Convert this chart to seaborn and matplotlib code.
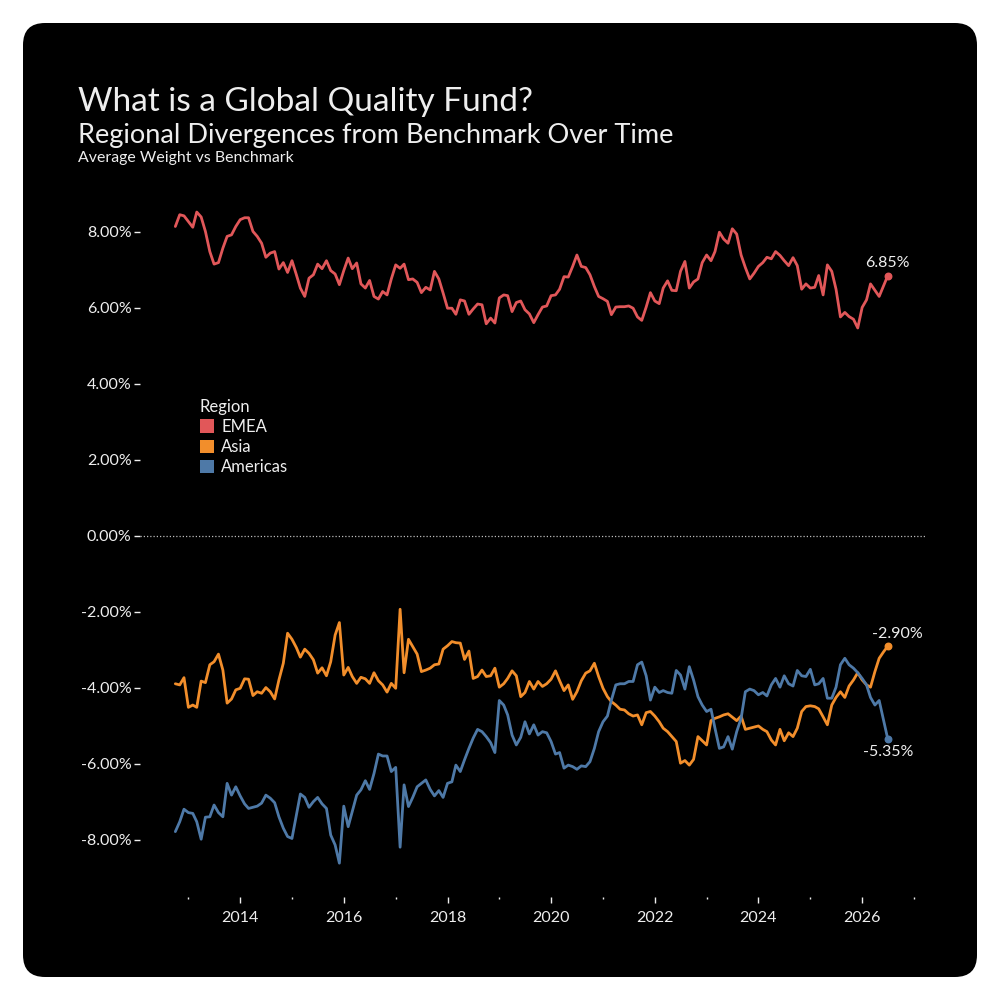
import numpy as np
import pandas as pd
import matplotlib
matplotlib.use("Agg")
import matplotlib.pyplot as plt
from matplotlib.patches import FancyBboxPatch, Patch
import seaborn as sns

# ---------------- data (monthly, % weight vs benchmark) ----------------
start_month = "2012-10-01"

emea = [
    8.14, 8.45, 8.42, 8.27, 8.12, 8.52, 8.39, 8.01, 7.48, 7.15,
    7.19, 7.57, 7.88, 7.92, 8.14, 8.32, 8.37, 8.37, 8.01, 7.88,
    7.70, 7.33, 7.44, 7.48, 7.02, 7.19, 6.93, 7.24, 6.87, 6.52,
    6.30, 6.78, 6.87, 7.15, 7.03, 7.24, 6.98, 6.89, 6.61, 6.98,
    7.31, 7.03, 7.18, 6.63, 6.52, 6.72, 6.30, 6.23, 6.43, 6.34,
    6.76, 7.13, 7.04, 7.15, 6.74, 6.76, 6.67, 6.40, 6.54, 6.47,
    6.96, 6.76, 6.39, 5.99, 5.99, 5.83, 6.21, 6.18, 5.83, 5.97,
    6.10, 6.08, 5.58, 5.73, 5.60, 6.26, 6.34, 6.32, 5.90, 6.14,
    6.18, 5.95, 5.84, 5.61,
    5.82, 6.02, 6.05, 6.32, 6.34, 6.49, 6.82, 6.81, 7.09, 7.39,
    7.09, 7.06, 6.87, 6.56, 6.30, 6.24, 6.17, 5.82, 6.02, 6.03,
    6.03, 6.05, 5.99, 5.76, 5.67, 6.02, 6.40, 6.18, 6.11, 6.52,
    6.71, 6.46, 6.45, 6.96, 7.22, 6.52, 6.68, 6.76, 7.19, 7.39,
    7.24, 7.48, 7.99, 7.81, 7.70, 8.08, 7.94, 7.39, 7.06, 6.76,
    6.91, 7.09, 7.19, 7.33, 7.29, 7.48, 7.38, 7.24, 7.11, 7.32,
    7.11, 6.49, 6.63, 6.52, 6.54, 6.85, 6.34, 7.13, 6.96, 6.49,
    5.76, 5.88, 5.77, 5.70, 5.47, 6.01, 6.21, 6.63, 6.46, 6.30,
    6.58, 6.85,
]

asia = [
    -3.89, -3.92, -3.73, -4.51, -4.45, -4.51, -3.82, -3.86, -3.39, -3.31,
    -3.11, -3.53, -4.40, -4.29, -4.05, -4.01, -3.76, -3.77, -4.20, -4.10,
    -4.14, -3.99, -4.10, -4.29, -3.79, -3.35, -2.56, -2.72, -2.94, -3.19,
    -2.98, -3.09, -3.26, -3.61, -3.47, -3.68, -3.31, -2.61, -2.28, -3.66,
    -3.46, -3.70, -3.88, -3.72, -3.76, -3.88, -3.60, -3.81, -3.92, -4.11,
    -3.88, -4.01, -1.93, -3.60, -2.72, -2.91, -3.11, -3.57, -3.53, -3.48,
    -3.39, -3.37, -2.98, -2.89, -2.78, -2.81, -2.82, -3.25, -3.03, -3.75,
    -3.70, -3.53, -3.70, -3.68, -3.48, -3.98, -3.89, -3.75, -3.55, -3.68,
    -4.23, -4.12, -3.83, -4.03,
    -3.83, -3.96, -3.89, -3.77, -3.55, -3.81, -4.07, -3.92, -4.30, -4.10,
    -3.81, -3.61, -3.55, -3.35, -3.70, -4.01, -4.23, -4.36, -4.45, -4.56,
    -4.58, -4.68, -4.74, -4.71, -4.97, -4.65, -4.62, -4.74, -4.89, -5.06,
    -5.15, -5.28, -5.41, -5.98, -5.91, -6.03, -5.88, -5.28, -5.39, -5.50,
    -4.86, -4.80, -4.76, -4.71, -4.68, -4.77, -4.86, -4.74, -5.09, -5.06,
    -5.03, -5.00, -5.09, -5.15, -5.37, -5.50, -5.09, -5.39, -5.18, -5.28,
    -5.06, -4.62, -4.49, -4.47, -4.49, -4.55, -4.76, -4.97, -4.45, -4.25,
    -4.10, -4.25, -3.95, -3.79, -3.60, -3.79, -3.92, -3.98, -3.57, -3.22,
    -3.05, -2.90,
]

americas = [
    -7.78, -7.52, -7.19, -7.28, -7.30, -7.52, -7.98, -7.40, -7.39, -7.08,
    -7.28, -7.39, -6.51, -6.82, -6.60, -6.84, -7.05, -7.17, -7.14, -7.11,
    -7.03, -6.82, -6.90, -7.02, -7.39, -7.69, -7.91, -7.96, -7.34, -6.79,
    -6.88, -7.14, -6.99, -6.88, -7.05, -7.17, -7.87, -8.13, -8.61, -7.11,
    -7.65, -7.25, -6.82, -6.68, -6.44, -6.67, -6.25, -5.74, -5.79, -5.79,
    -6.20, -6.09, -8.19, -6.55, -7.12, -6.88, -6.60, -6.51, -6.42, -6.67,
    -6.84, -6.70, -6.88, -6.51, -6.47, -6.03, -6.20, -5.89, -5.59, -5.32,
    -5.09, -5.15, -5.28, -5.44, -5.70, -4.33, -4.45, -4.71, -5.24, -5.50,
    -5.30, -4.89, -5.21, -4.97,
    -5.24, -5.15, -5.18, -5.41, -5.74, -5.70, -6.11, -6.03, -6.07, -6.14,
    -6.05, -6.07, -5.94, -5.59, -5.15, -4.89, -4.74, -4.32, -3.92, -3.89,
    -3.89, -3.83, -3.83, -3.39, -3.32, -3.68, -4.32, -3.98, -4.12, -4.07,
    -4.12, -4.14, -3.54, -3.66, -4.03, -3.44, -3.79, -4.23, -4.45, -4.62,
    -4.56, -5.06, -5.59, -5.55, -5.28, -5.61, -5.15, -4.80, -4.10, -4.03,
    -4.07, -4.18, -4.12, -4.21, -3.92, -3.75, -3.98, -3.68, -3.89, -3.95,
    -3.54, -3.68, -3.70, -3.51, -3.92, -3.89, -3.75, -4.27, -4.27, -3.98,
    -3.39, -3.22, -3.39, -3.48, -3.60, -3.75, -3.92, -4.25, -4.45, -4.33,
    -4.85, -5.35,
]

regions = ["EMEA", "Asia", "Americas"]
region_colors = {"EMEA": "#E15759", "Asia": "#F28E2B", "Americas": "#4E79A7"}
y_ticks = [-8, -6, -4, -2, 0, 2, 4, 6, 8]
major_years = [2014, 2016, 2018, 2020, 2022, 2024, 2026]
minor_years = [2013, 2015, 2017, 2019, 2021, 2023, 2025, 2027]

title = "What is a Global Quality Fund?"
subtitle = "Regional Divergences from Benchmark Over Time"
caption = "Average Weight vs Benchmark"

# ---------------- build table ----------------
n = min(len(emea), len(asia), len(americas))
dates = pd.date_range(start_month, periods=n, freq="MS")
series = {"EMEA": emea[:n], "Asia": asia[:n], "Americas": americas[:n]}
df = pd.concat(
    [pd.DataFrame({"Date": dates, "Value": vals, "Region": r}) for r, vals in series.items()],
    ignore_index=True,
)

# ---------------- style ----------------
sns.set_theme(style="dark", rc={"axes.facecolor": "none", "figure.facecolor": "white"})
plt.rcParams["font.family"] = ["Lato", "DejaVu Sans"]
txt = "#EEEEEE"

fig = plt.figure(figsize=(10, 10), dpi=100, facecolor="white")
bg = FancyBboxPatch((0.023, 0.023), 0.954, 0.954,
                    boxstyle="round,pad=0,rounding_size=0.022",
                    transform=fig.transFigure, facecolor="black", edgecolor="none", zorder=-10)
fig.patches.append(bg)

ax = fig.add_axes([0.14, 0.103, 0.785, 0.707])
ax.set_facecolor("none")
ax.set_zorder(5)

sns.lineplot(data=df, x="Date", y="Value", hue="Region", hue_order=regions,
             palette=region_colors, linewidth=2.0, ax=ax, legend=False)

ax.axhline(0, color="#BBBBBB", lw=0.9, ls=(0, (1, 1.6)), zorder=1)

# endpoints and labels
last = df[df["Date"] == dates[-1]]
for _, row in last.iterrows():
    ax.scatter([row["Date"]], [row["Value"]], s=22, color=region_colors[row["Region"]], zorder=5)
offsets = {"EMEA": (0, 4, "bottom"), "Asia": (7, 4, "bottom"), "Americas": (0, -4, "top")}
for _, row in last.iterrows():
    dx, dy, va = offsets[row["Region"]]
    ax.annotate(f"{row['Value']:.2f}%", (row["Date"], row["Value"]),
                xytext=(dx, dy), textcoords="offset points", ha="center", va=va,
                color=txt, fontsize=11.5)

ax.set_ylim(-9.5, 9.1)
ax.set_xlim(pd.Timestamp("2012-01-26"), pd.Timestamp("2027-03-20"))
ax.set_yticks(y_ticks)
ax.set_yticklabels([f"{v:.2f}%" for v in y_ticks])
ax.set_xticks([pd.Timestamp(f"{y}-01-01") for y in major_years])
ax.set_xticklabels([str(y) for y in major_years])
ax.set_xticks([pd.Timestamp(f"{y}-01-01") for y in minor_years], minor=True)
ax.tick_params(axis="both", which="major", colors=txt, labelcolor=txt, labelsize=11.5,
               length=4, width=1, direction="out", pad=2, left=True, bottom=True)
ax.tick_params(axis="x", which="minor", colors=txt, length=1.5, width=1, bottom=True)
ax.tick_params(axis="x", which="major", pad=6)
ax.set_xlabel("")
ax.set_ylabel("")
ax.grid(False)
for s in ax.spines.values():
    s.set_visible(False)

# titles
fig.text(0.078, 0.889, title, color=txt, fontsize=24, va="baseline", ha="left")
fig.text(0.078, 0.857, subtitle, color=txt, fontsize=19.5, va="baseline", ha="left")
fig.text(0.078, 0.838, caption, color=txt, fontsize=11.4, va="baseline", ha="left")

# legend
handles = [Patch(facecolor=region_colors[r], edgecolor="none") for r in regions]
leg = fig.legend(handles, regions, title="Region", loc="upper left",
                 bbox_to_anchor=(0.188, 0.613), frameon=False,
                 handlelength=0.85, handleheight=0.85, handletextpad=0.45,
                 labelspacing=0.25, fontsize=12, title_fontsize=12, borderpad=0.2)
leg._legend_box.align = "left"
leg.get_title().set_color(txt)
for t in leg.get_texts():
    t.set_color(txt)

fig.savefig("out.png", dpi=100, facecolor="white")
